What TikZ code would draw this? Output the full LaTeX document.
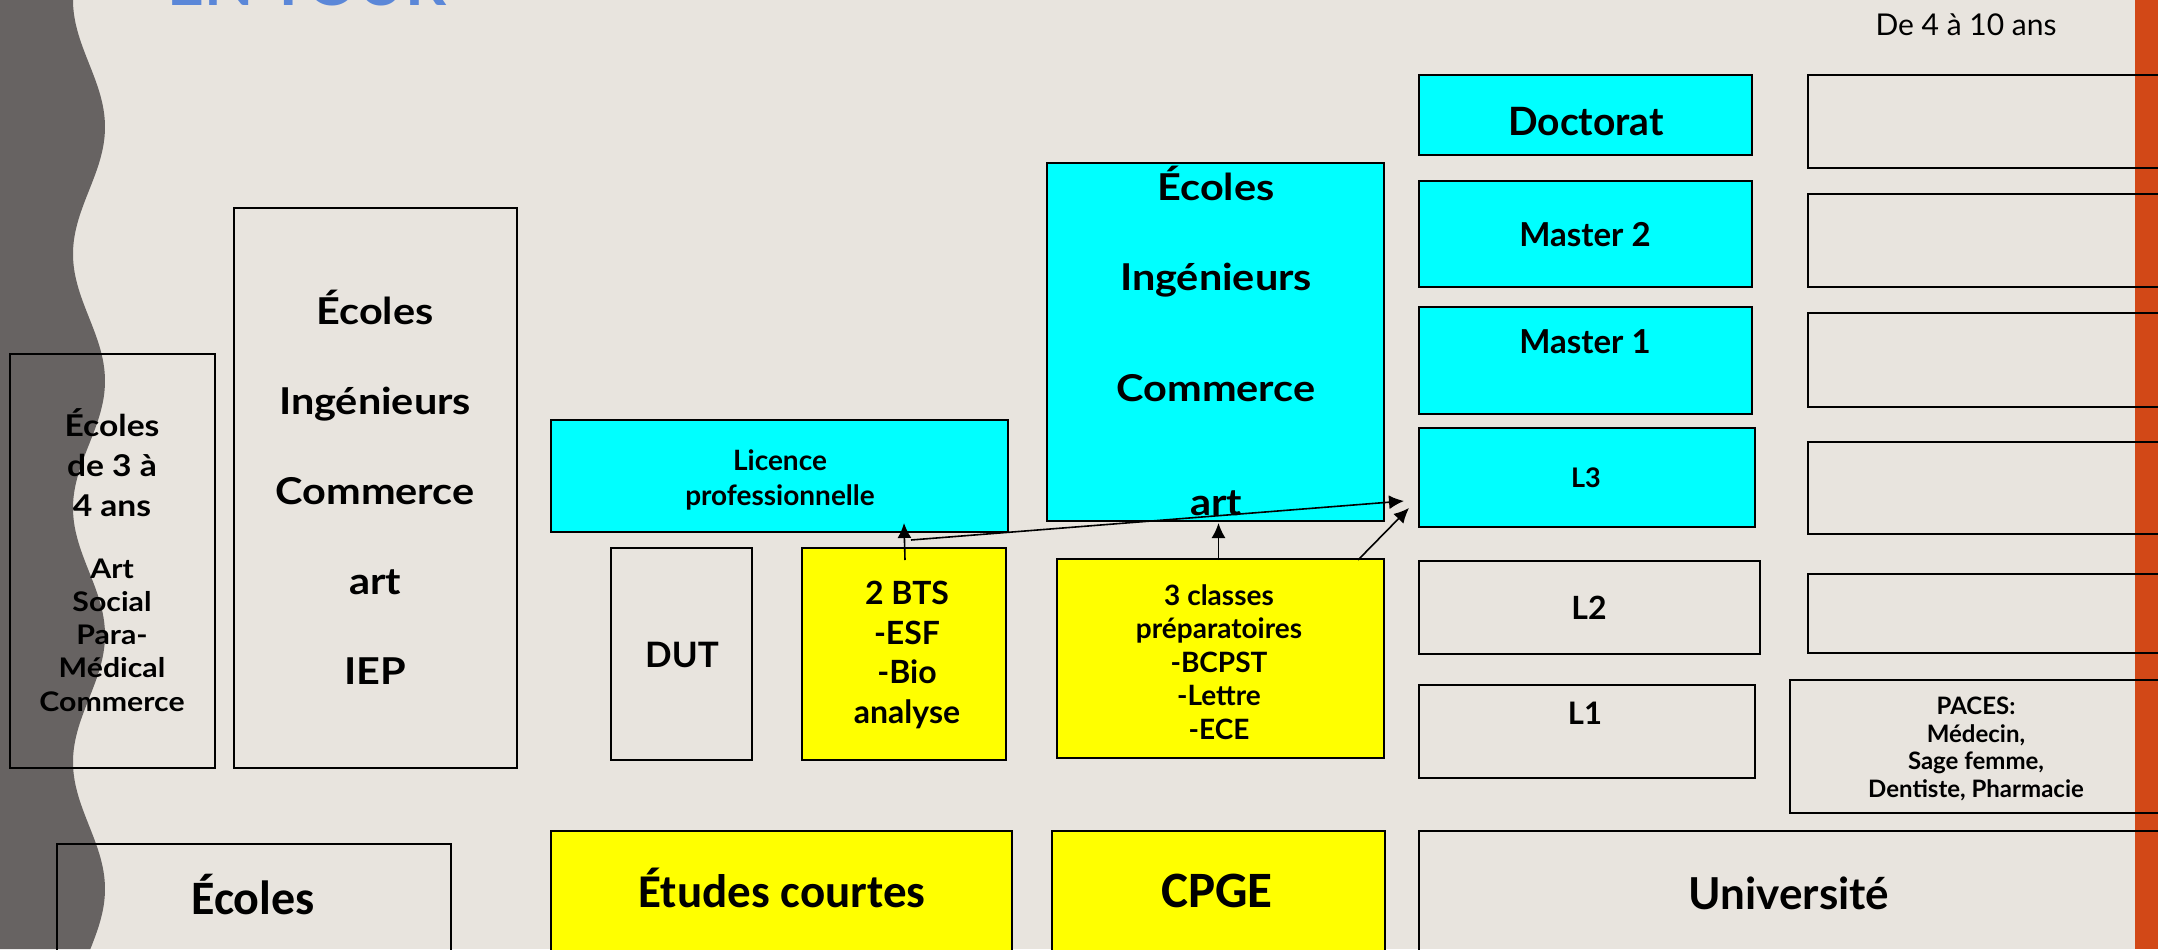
\documentclass[tikz,border=0pt]{standalone}
\usepackage{fontspec}
\setmainfont{Lato}
\newfontfamily\gillw[FakeStretch=1.12]{Lato}
\newfontfamily\gilln{Lato}
\newfontfamily\calib{Carlito}
\usetikzlibrary{fit,calc,arrows.meta}
\definecolor{bgc}{HTML}{E8E4DE}
\definecolor{grayc}{HTML}{676362}
\definecolor{orangec}{HTML}{D24817}
\definecolor{cyanc}{HTML}{00FFFF}
\definecolor{yellowc}{HTML}{FFFF00}
\definecolor{titlec}{HTML}{5B87D8}
\newcommand\myfs[2]{\fontsize{#1}{#2}\selectfont}
\tikzset{
  bx/.style={draw=black, line width=1pt, inner sep=0pt},
  cy/.style={bx, fill=cyanc},
  ye/.style={bx, fill=yellowc},
  lbl/.style={align=center, inner sep=0pt, text=black},
  arr/.style={-{Latex[length=7.5pt,width=7pt]}, line width=0.8pt}
}
\begin{document}
\begin{tikzpicture}[x=0.5pt,y=-0.5pt]
\useasboundingbox (0,0) rectangle (2158,949);
\fill[bgc] (0,0) rectangle (2158,949);
\fill[orangec] (2135,0) rectangle (2158,949);
\fill[grayc] (0,0) -- plot[domain=0:949,samples=140,smooth] ({89-16*cos(1.41732*\x)},\x) -- (0,949) -- cycle;

% title (cut off at the top edge)
\node[anchor=base west, inner sep=0pt, text=titlec, font=\gilln\bfseries\myfs{32pt}{36pt}] (title) at (167,5) {EN TOUR};
\node[anchor=base, inner sep=0pt, font=\gilln\myfs{15pt}{18pt}] (de4) at (1966,35) {De 4 à 10 ans};

% boxes
\node[bx, fit={(10,354)(215,768)}] (e34) {};
\node[bx, fit={(234,208)(517,768)}] (eleft) {};
\node[cy, fit={(551,420)(1008,532)}] (lic) {};
\node[bx, fit={(611,548)(752,760)}] (dut) {};
\node[ye, fit={(802,548)(1006,760)}] (bts) {};
\node[cy, fit={(1047,163)(1384,521)}] (ecc) {};
\node[ye, fit={(1057,559)(1384,758)}] (cps) {};
\node[cy, fit={(1419,75)(1752,155)}] (doc) {};
\node[cy, fit={(1419,181)(1752,287)}] (m2) {};
\node[cy, fit={(1419,307)(1752,414)}] (m1) {};
\node[cy, fit={(1419,428)(1755,527)}] (l3) {};
\node[bx, fit={(1419,561)(1760,654)}] (l2) {};
\node[bx, fit={(1419,685)(1755,778)}] (l1) {};
\node[bx, fit={(1790,680)(2200,813)}] (paces) {};
\node[bx, fit={(1808,75)(2200,168)}] (r1) {};
\node[bx, fit={(1808,194)(2200,287)}] (r2) {};
\node[bx, fit={(1808,313)(2200,407)}] (r3) {};
\node[bx, fit={(1808,442)(2200,534)}] (r4) {};
\node[bx, fit={(1808,574)(2200,653)}] (r5) {};
\node[bx, fit={(57,844)(451,1000)}] (ecb) {};
\node[ye, fit={(551,831)(1012,1000)}] (etc) {};
\node[ye, fit={(1052,831)(1385,1000)}] (cpge) {};
\node[bx, fit={(1419,831)(2200,1000)}] (univ) {};

% labels
\node[lbl, font=\gillw\bfseries\myfs{15pt}{20pt}] (e34a) at (112,463) {Écoles\\de 3 à\\4 ans};
\node[lbl, font=\gillw\bfseries\myfs{13.5pt}{16.6pt}] (e34b) at (112,635) {Art\\Social\\Para-\\Médical\\Commerce};
\node[lbl, font=\gillw\bfseries\myfs{18.5pt}{45pt}] (eleftt) at (375,487) {Écoles\\Ingénieurs\\Commerce\\art\\IEP};
\node[lbl, font=\gillw\bfseries\myfs{18.5pt}{45pt}] (ecct) at (1216,341) {Écoles\\Ingénieurs\\[10.5pt]Commerce\\[12pt]art};
\node[lbl, font=\gilln\bfseries\myfs{14pt}{17.5pt}] (lict) at (780,480) {Licence\\professionnelle};
\node[lbl, font=\gilln\bfseries\myfs{17.5pt}{20pt}] (dutt) at (682,655) {DUT};
\node[lbl, font=\gilln\bfseries\myfs{16pt}{19.9pt}] (btst) at (907,655) {2 BTS\\-ESF\\-Bio\\analyse};
\node[lbl, font=\gilln\bfseries\myfs{14pt}{16.75pt}] (cpst) at (1219,662) {3 classes\\préparatoires\\-BCPST\\-Lettre\\-ECE};
\node[lbl, font=\gilln\bfseries\myfs{19.5pt}{22pt}] (doct) at (1586,122) {Doctorat};
\node[lbl, font=\gilln\bfseries\myfs{16.5pt}{20pt}] (m2t) at (1585,235) {Master 2};
\node[lbl, font=\gilln\bfseries\myfs{16.5pt}{20pt}] (m1t) at (1585,342) {Master 1};
\node[lbl, font=\gilln\bfseries\myfs{13.5pt}{16pt}] (l3t) at (1586,478) {L3};
\node[lbl, font=\gilln\bfseries\myfs{16pt}{19pt}] (l2t) at (1589,608) {L2};
\node[lbl, font=\gilln\bfseries\myfs{15.5pt}{19pt}] (l1t) at (1585,713) {L1};
\node[lbl, font=\gilln\bfseries\myfs{12pt}{13.85pt}] (pacest) at (1976,749) {PACES:\\Médecin,\\Sage femme,\\Dentiste, Pharmacie};
\node[lbl, font=\gilln\bfseries\myfs{22pt}{26pt}] (univt) at (1789,893) {Université};
\node[lbl, font=\calib\bfseries\myfs{23.5pt}{27pt}] (etct) at (782,888) {Études courtes};
\node[lbl, font=\calib\bfseries\myfs{25.5pt}{29pt}] (cpget) at (1217,891) {CPGE};
\node[lbl, font=\calib\bfseries\myfs{24pt}{28pt}] (ecbt) at (253,895) {Écoles};

% arrows
\draw[arr] ($(bts.north)+(1,13)$) -- ($(lic.south west)+(354,-10)$);
\draw[arr] ($(bts.north)+(7,-7)$) -- ($(l3.west)+(-14,23.5)$);
\draw[arr] ($(cps.north)+(-2,2)$) -- ($(cps.north |- ecc.south)+(-2,1)$);
\draw[arr] ($(cps.north east)+(-27,2)$) -- ($(l3.west)+(-9,30.5)$);
\end{tikzpicture}
\end{document}
